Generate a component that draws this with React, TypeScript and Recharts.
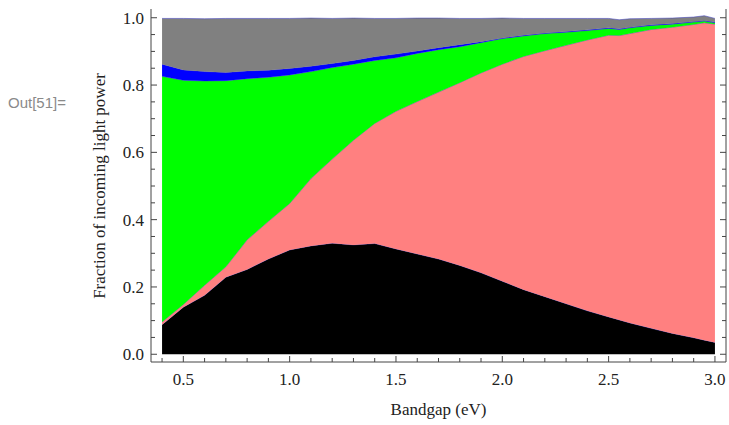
import React from "react";
import { AreaChart, Area, XAxis, YAxis } from "recharts";

// bandgap in eV
const BANDGAP = [
  0.4, 0.5, 0.6, 0.7, 0.8, 0.9, 1.0, 1.1, 1.2, 1.3, 1.4, 1.5, 1.6, 1.7, 1.8,
  1.9, 2.0, 2.1, 2.2, 2.3, 2.4, 2.5, 2.55, 2.6, 2.7, 2.8, 2.9, 2.95, 3.0,
];

// fractions of incoming light power, bottom to top
const EFFICIENCY = [
  0.088, 0.14, 0.175, 0.229, 0.252, 0.283, 0.31, 0.322, 0.33, 0.325, 0.329,
  0.313, 0.298, 0.283, 0.264, 0.242, 0.217, 0.192, 0.171, 0.15, 0.129, 0.111,
  0.102, 0.093, 0.077, 0.062, 0.049, 0.042, 0.035,
];
const NOT_ABSORBED = [
  0.008, 0.008, 0.03, 0.031, 0.088, 0.112, 0.138, 0.2, 0.25, 0.311, 0.357,
  0.409, 0.453, 0.496, 0.543, 0.594, 0.645, 0.693, 0.731, 0.768, 0.805, 0.837,
  0.845, 0.86, 0.888, 0.91, 0.931, 0.943, 0.946,
];
const THERMALIZATION = [
  0.73, 0.666, 0.607, 0.553, 0.479, 0.428, 0.382, 0.318, 0.272, 0.226, 0.187,
  0.159, 0.143, 0.126, 0.107, 0.09, 0.076, 0.061, 0.051, 0.039, 0.028, 0.02,
  0.018, 0.017, 0.012, 0.009, 0.007, 0.005, 0.004,
];
const EXTRACTION = [
  0.036, 0.031, 0.028, 0.024, 0.023, 0.021, 0.019, 0.016, 0.012, 0.011, 0.011,
  0.011, 0.007, 0.006, 0.006, 0.003, 0.002, 0.002, 0.002, 0.002, 0.002, 0.002,
  0.002, 0.002, 0.002, 0.002, 0.002, 0.002, 0.002,
];
const EMISSION = [
  0.136, 0.153, 0.157, 0.161, 0.156, 0.154, 0.149, 0.143, 0.134, 0.126, 0.114,
  0.106, 0.098, 0.088, 0.078, 0.069, 0.059, 0.05, 0.043, 0.039, 0.034, 0.028,
  0.027, 0.025, 0.019, 0.016, 0.013, 0.014, 0.011,
];

const X_MAJOR = [0.5, 1.0, 1.5, 2.0, 2.5, 3.0];
const X_MINOR = [
  0.4, 0.6, 0.7, 0.8, 0.9, 1.1, 1.2, 1.3, 1.4, 1.6, 1.7, 1.8, 1.9, 2.1, 2.2,
  2.3, 2.4, 2.6, 2.7, 2.8, 2.9,
];
const Y_MAJOR = [0, 0.2, 0.4, 0.6, 0.8, 1.0];
const Y_MINOR = [
  0.05, 0.1, 0.15, 0.25, 0.3, 0.35, 0.45, 0.5, 0.55, 0.65, 0.7, 0.75, 0.85,
  0.9, 0.95,
];

const data = BANDGAP.map((x, i) => ({
  x,
  eff: EFFICIENCY[i],
  below: NOT_ABSORBED[i],
  therm: THERMALIZATION[i],
  extr: EXTRACTION[i],
  emis: EMISSION[i],
}));

const xTicks = [...X_MINOR, ...X_MAJOR].sort((a, b) => a - b);
const yTicks = [...Y_MINOR, ...Y_MAJOR].sort((a, b) => a - b);
const isMajor = (list: number[], v: number) =>
  list.some((m) => Math.abs(m - v) < 1e-6);

const FONT = "'Liberation Serif', 'Times New Roman', serif";
const FRAME = "#444";
const labelStyle = { fontFamily: FONT, fontSize: 17 };

const BottomTick = ({ x, y, payload }: any) => {
  const major = isMajor(X_MAJOR, payload.value);
  return (
    <g>
      <line x1={x} y1={y} x2={x} y2={y - (major ? 6 : 4)} stroke={FRAME} />
      {major && (
        <text x={x} y={y + 23} textAnchor="middle" style={labelStyle} fill="#222">
          {payload.value.toFixed(1)}
        </text>
      )}
    </g>
  );
};

const TopTick = ({ x, y, payload }: any) => {
  const major = isMajor(X_MAJOR, payload.value);
  return <line x1={x} y1={y} x2={x} y2={y + (major ? 6 : 4)} stroke={FRAME} />;
};

const LeftTick = ({ x, y, payload }: any) => {
  const major = isMajor(Y_MAJOR, payload.value);
  return (
    <g>
      <line x1={x} y1={y} x2={x + (major ? 6 : 4)} y2={y} stroke={FRAME} />
      {major && (
        <text x={x - 7} y={y + 6} textAnchor="end" style={labelStyle} fill="#222">
          {payload.value.toFixed(1)}
        </text>
      )}
    </g>
  );
};

const RightTick = ({ x, y, payload }: any) => {
  const major = isMajor(Y_MAJOR, payload.value);
  return <line x1={x} y1={y} x2={x - (major ? 6 : 4)} y2={y} stroke={FRAME} />;
};

const edge = { stroke: "#4040c0", strokeOpacity: 0.55, strokeWidth: 1 };

export default function App() {
  return (
    <div style={{ position: "absolute", left: 0, top: 0, width: 729, height: 425, background: "#fff" }}>
      <AreaChart
        width={729}
        height={425}
        data={data}
        margin={{ top: 9, right: 0, bottom: 0, left: 0 }}
      >
        <XAxis
          xAxisId="b"
          dataKey="x"
          type="number"
          domain={[0.348, 3.052]}
          ticks={xTicks}
          interval={0}
          height={63}
          tickSize={0}
          tickMargin={0}
          tickLine={false}
          axisLine={{ stroke: FRAME }}
          tick={<BottomTick />}
          allowDataOverflow
        />
        <XAxis
          xAxisId="t"
          dataKey="x"
          type="number"
          orientation="top"
          domain={[0.348, 3.052]}
          ticks={xTicks}
          interval={0}
          height={0}
          tickSize={0}
          tickMargin={0}
          tickLine={false}
          axisLine={{ stroke: FRAME }}
          tick={<TopTick />}
          allowDataOverflow
        />
        <YAxis
          yAxisId="l"
          type="number"
          domain={[-0.023, 1.026]}
          ticks={yTicks}
          interval={0}
          width={151}
          tickSize={0}
          tickMargin={0}
          tickLine={false}
          axisLine={{ stroke: FRAME }}
          tick={<LeftTick />}
          allowDataOverflow
        />
        <YAxis
          yAxisId="r"
          orientation="right"
          type="number"
          domain={[-0.023, 1.026]}
          ticks={yTicks}
          interval={0}
          width={3}
          tickSize={0}
          tickMargin={0}
          tickLine={false}
          axisLine={{ stroke: FRAME }}
          tick={<RightTick />}
          allowDataOverflow
        />
        <Area xAxisId="b" yAxisId="l" type="linear" dataKey="eff" stackId="s" fill="#000000" fillOpacity={1} {...edge} isAnimationActive={false} />
        <Area xAxisId="b" yAxisId="l" type="linear" dataKey="below" stackId="s" fill="#ff8080" fillOpacity={1} {...edge} isAnimationActive={false} />
        <Area xAxisId="b" yAxisId="l" type="linear" dataKey="therm" stackId="s" fill="#00ff00" fillOpacity={1} {...edge} isAnimationActive={false} />
        <Area xAxisId="b" yAxisId="l" type="linear" dataKey="extr" stackId="s" fill="#0000ff" fillOpacity={1} {...edge} isAnimationActive={false} />
        <Area xAxisId="b" yAxisId="l" type="linear" dataKey="emis" stackId="s" fill="#808080" fillOpacity={1} {...edge} isAnimationActive={false} />
      </AreaChart>
      <div
        style={{
          position: "absolute",
          left: 8,
          top: 94,
          fontFamily: "'Liberation Sans', Arial, sans-serif",
          fontSize: 15,
          color: "#8a8a8a",
        }}
      >
        Out[51]=
      </div>
      <div
        style={{
          position: "absolute",
          left: 100,
          top: 185.5,
          transform: "translate(-50%, -50%) rotate(-90deg)",
          whiteSpace: "nowrap",
          fontFamily: FONT,
          fontSize: 17,
          color: "#222",
        }}
      >
        Fraction of incoming light power
      </div>
      <div
        style={{
          position: "absolute",
          left: 438.5,
          top: 410,
          transform: "translate(-50%, -50%)",
          whiteSpace: "nowrap",
          fontFamily: FONT,
          fontSize: 17,
          color: "#222",
        }}
      >
        Bandgap (eV)
      </div>
    </div>
  );
}
